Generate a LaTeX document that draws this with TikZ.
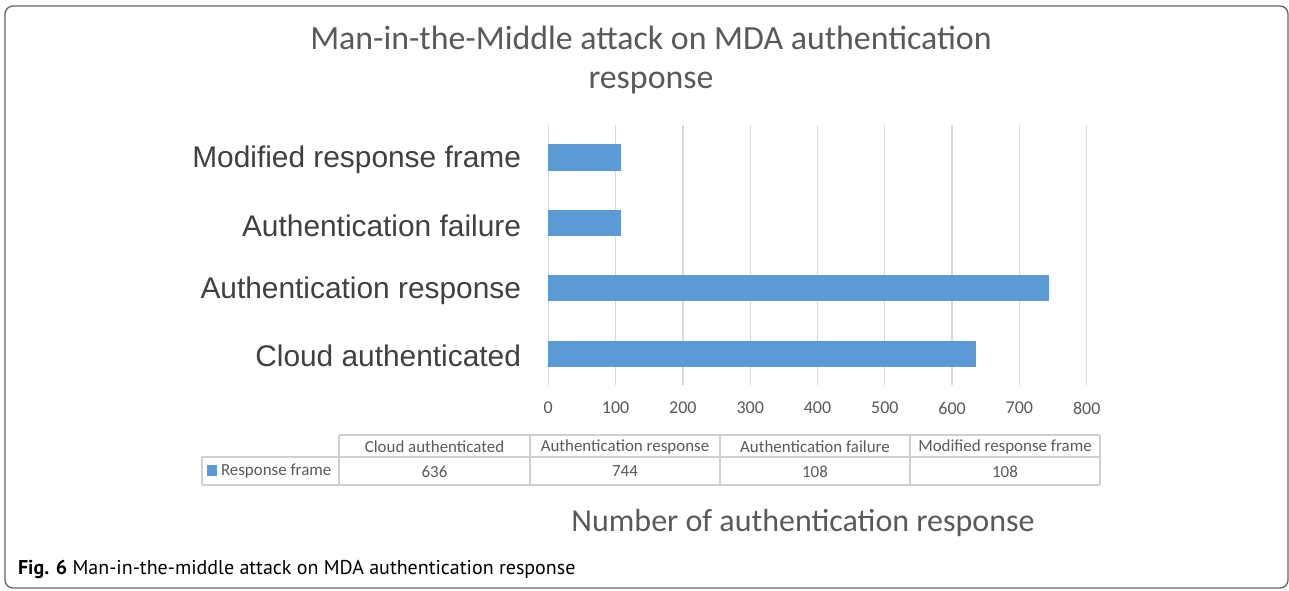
\documentclass[tikz,border=0pt]{standalone}
\usepackage{fontspec}
\setmainfont{Carlito}
\newfontfamily\arialf{Liberation Sans}
\newfontfamily\capf{PT Sans}
\definecolor{barblue}{HTML}{5B9BD5}
\definecolor{txtgray}{HTML}{595959}
\definecolor{catgray}{HTML}{404040}
\definecolor{gridgray}{HTML}{D9D9D9}
\definecolor{tabgray}{HTML}{D0D0D0}
\definecolor{framegray}{HTML}{666666}
\tikzset{
  plain/.style={inner sep=0pt, outer sep=0pt},
  titletext/.style={plain, text=txtgray, font=\fontsize{25.4}{29}\selectfont, align=center},
  cattext/.style={plain, anchor=east, text=catgray, font=\arialf\fontsize{22.4}{26}\selectfont},
  ticktext/.style={plain, text=txtgray, font=\fontsize{13.5}{16}\selectfont},
  tabtext/.style={plain, text=txtgray, font=\fontsize{12.7}{15}\selectfont},
  gridline/.style={draw=gridgray, line width=1pt},
  barfill/.style={fill=barblue},
  tabline/.style={draw=tabgray, line width=0.8pt},
}
\begin{document}
\begin{tikzpicture}[x=0.75pt,y=-0.75pt]
\useasboundingbox (0,0) rectangle (1289,591);
\draw[framegray, line width=1pt, rounded corners=6pt] (5,6) rectangle (1288,588);

\node[titletext] (title) at (651,60) {Man-in-the-Middle attack on MDA authentication\\response};

% grid and ticks
\foreach \i in {0,...,8} {
  \pgfmathsetmacro{\xx}{548.3+67.3*\i}
  \draw[gridline] (\xx,125) -- (\xx,385);
  \pgfmathtruncatemacro{\val}{100*\i}
  \node[ticktext] (tick\i) at (\xx,408) {\val};
}

% bars
\fill[barfill] (548.3,144.3) rectangle ({548.3+0.673*108},170.7);
\fill[barfill] (548.3,210) rectangle ({548.3+0.673*108},236);
\fill[barfill] (548.3,275.3) rectangle ({548.3+0.673*744},301);
\fill[barfill] (548.3,340.7) rectangle ({548.3+0.673*636},366.7);

% category labels
\node[cattext] (c1) at (521,160) {Modified response frame};
\node[cattext] (c2) at (521,226) {Authentication failure};
\node[cattext] (c3) at (521,291) {Authentication response};
\node[cattext] (c4) at (521,356) {Cloud authenticated};

% table
\draw[tabline] (339,435) -- (1100,435);
\draw[tabline] (202,457) -- (1100,457);
\draw[tabline] (202,485) -- (1100,485);
\draw[tabline] (202,457) -- (202,485);
\foreach \xx in {339,530,720,910,1100} {\draw[tabline] (\xx,435) -- (\xx,485);}
\node[tabtext] (h1) at (434.5,447) {Cloud authenticated};
\node[tabtext] (h2) at (625,447) {Authentication response};
\node[tabtext] (h3) at (815,447) {Authentication failure};
\node[tabtext] (h4) at (1005,447) {Modified response frame};
\fill[barblue] (207,465) rectangle (217,476);
\node[tabtext, anchor=west] (leg) at (221,471.5) {Response frame};
\node[tabtext] (d1) at (434.5,471.5) {636};
\node[tabtext] (d2) at (625,471.5) {744};
\node[tabtext] (d3) at (815,471.5) {108};
\node[tabtext] (d4) at (1005,471.5) {108};

\node[plain, text=txtgray, font=\fontsize{24}{28}\selectfont] (axtitle) at (803,523) {Number of authentication response};

\node[plain, anchor=base west, font=\capf\fontsize{15}{18}\selectfont] (cap) at (18,574) {\textbf{Fig. 6} Man-in-the-middle attack on MDA authentication response};
\end{tikzpicture}
\end{document}
